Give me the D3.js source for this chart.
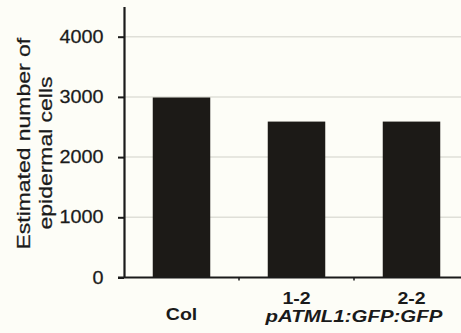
<!DOCTYPE html>
<html>
<head>
<meta charset="utf-8">
<script src="https://cdn.jsdelivr.net/npm/d3@7"></script>
<style>
  html, body { margin: 0; padding: 0; background: #fdfdf7; }
  svg { display: block; }
  text { font-family: "Liberation Sans", Arial, sans-serif; fill: #1a1a1a; }
</style>
</head>
<body>
<svg id="chart" width="461" height="333"></svg>
<script>
// Epidermal cell counts per line
const categories = ["Col", "1-2", "2-2"];
const cellCounts = [2990, 2590, 2590];
const yTickValues = [0, 1000, 2000, 3000, 4000];
const yDomainMax = 4500;
const groupLabel = "pATML1:GFP:GFP";
const groupedCategories = ["1-2", "2-2"];
const yTitleLines = ["Estimated number of", "epidermal cells"];

const svg = d3.select("#chart");
const W = 461, H = 333;
const plotLeft = 124, plotRight = 469, plotTop = 6.6, plotBottom = 277.5;
const ink = "#1a1a1a";

svg.append("rect").attr("width", W).attr("height", H).attr("fill", "#fdfdf7");

const x = d3.scaleBand().domain(categories).range([plotLeft, plotRight])
  .paddingInner(0.5).paddingOuter(0.25);
const y = d3.scaleLinear().domain([0, yDomainMax]).range([plotBottom, plotTop]);

// gridlines
svg.append("g").selectAll("line")
  .data(yTickValues.filter(v => v > 0))
  .join("line")
  .attr("x1", plotLeft).attr("x2", W)
  .attr("y1", d => y(d)).attr("y2", d => y(d))
  .attr("stroke", "#dfdfd8").attr("stroke-width", 1.5);

// bars
svg.append("g").selectAll("rect")
  .data(categories.map((c, i) => ({ c, v: cellCounts[i] })))
  .join("rect")
  .attr("x", d => x(d.c))
  .attr("width", x.bandwidth())
  .attr("y", d => y(d.v))
  .attr("height", d => y(0) - y(d.v))
  .attr("fill", "#1c1a17");

// y axis
const tickLen = 6, tickPad = 14.5;
const yAxis = svg.append("g")
  .attr("transform", `translate(${plotLeft},0)`)
  .call(d3.axisLeft(y).tickValues(yTickValues).tickSize(tickLen).tickSizeOuter(0).tickPadding(tickPad)
    .tickFormat(d3.format("d")));
yAxis.select(".domain").attr("stroke", ink).attr("stroke-width", 2.2);
yAxis.selectAll(".tick line").attr("stroke", ink).attr("stroke-width", 2);
yAxis.selectAll(".tick text")
  .attr("x", 0)
  .attr("transform", `translate(${-(tickLen + tickPad)},0) scale(1.13,1)`)
  .attr("font-size", 17.5).attr("fill", ink)
  .attr("stroke", ink).attr("stroke-width", 0.25)
  .style("font-family", "'Liberation Sans', Arial, sans-serif");

// x axis line
const xAxis = svg.append("g")
  .attr("transform", `translate(0,${plotBottom})`)
  .call(d3.axisBottom(x).tickSize(0).tickSizeOuter(0).tickFormat(""));
xAxis.select(".domain").attr("stroke", ink).attr("stroke-width", 2.2)
  .attr("d", `M${plotLeft - tickLen},0H${W}`);

// small marks between categories
const boundaries = categories.slice(0, -1).map(c => x(c) + x.bandwidth() + (x.step() - x.bandwidth()) / 2);
svg.append("g").selectAll("line")
  .data(boundaries)
  .join("line")
  .attr("x1", d => d).attr("x2", d => d)
  .attr("y1", plotBottom).attr("y2", plotBottom + 3)
  .attr("stroke", ink).attr("stroke-width", 1.5);

// category labels
svg.append("g").selectAll("text")
  .data(categories)
  .join("text")
  .attr("transform", d => `translate(${x(d) + x.bandwidth() / 2},${groupedCategories.includes(d) ? 303.5 : 319.5}) scale(1.15,1)`)
  .attr("text-anchor", "middle")
  .attr("font-size", 17).attr("font-weight", "bold")
  .text(d => d);

// group label under the transgenic lines
const gx = (x(groupedCategories[0]) + x(groupedCategories[1]) + x.bandwidth()) / 2;
svg.append("text")
  .attr("transform", `translate(${gx},321.5) scale(1.24,1)`)
  .attr("text-anchor", "middle")
  .attr("font-size", 16.5).attr("font-weight", "bold").attr("font-style", "italic")
  .text(groupLabel);

// y axis title
const titleX = [30, 51.5];
const titleY = [143.7, 153];
svg.append("g").selectAll("text")
  .data(yTitleLines)
  .join("text")
  .attr("transform", (d, i) => `translate(${titleX[i]},${titleY[i]}) rotate(-90) scale(1.24,1)`)
  .attr("text-anchor", "middle")
  .attr("font-size", 18.5)
  .attr("stroke", ink).attr("stroke-width", 0.25)
  .text(d => d);
</script>
</body>
</html>
